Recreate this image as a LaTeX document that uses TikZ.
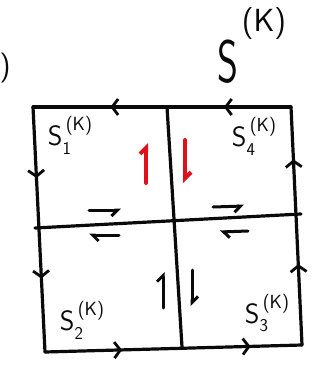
\documentclass[tikz,border=0pt]{standalone}
\usepackage{fontspec}
\usepackage{tikz}
\usetikzlibrary{calc,positioning,arrows.meta,decorations.markings}
\definecolor{PenRed}{HTML}{E0101A}
\definecolor{PenBlack}{HTML}{0A0A0A}

% patch name with index and (K)
\newcommand{\patchname}[1]{S\rlap{\raisebox{-0.3em}{\fontsize{18}{18}\selectfont #1}}\raisebox{0.55em}{\fontsize{19}{19}\selectfont\,(K)}}

\tikzset{
  pen/.style={draw=PenBlack, line width=3.2pt, line cap=round, line join=round},
  edgemarks/.style 2 args={
    postaction={decorate},
    decoration={markings,
      mark=at position #1 with {\arrow{Straight Barb[length=6pt,width=16pt,line width=2.8pt]}},
      mark=at position #2 with {\arrow{Straight Barb[length=6pt,width=16pt,line width=2.8pt]}}}
  },
  flux/.style={pen, line width=3pt},
  patchlabel/.style={font=\sffamily\fontsize{28}{30}\selectfont, text=PenBlack, inner sep=1pt},
}

\begin{document}
\begin{tikzpicture}[x=1pt,y=-1pt]
  \useasboundingbox (0,0) rectangle (323,371);

  % corners of the boundary and ends of the cut lines
  \coordinate (tl) at (33,107);
  \coordinate (tr) at (291,107);
  \coordinate (br) at (302,345);
  \coordinate (bl) at (45,352);
  \coordinate (topmid) at (167,107);
  \coordinate (botmid) at (182,347);
  \coordinate (leftmid) at (35,228);
  \coordinate (rightmid) at (301,214);

  % outer boundary, oriented
  \draw[pen, edgemarks={0.26}{0.7}] (tr) -- (tl);
  \draw[pen, edgemarks={0.29}{0.7}] (tl) -- (bl);
  \draw[pen, edgemarks={0.3}{0.8}] (bl) -- (br);
  \draw[pen, edgemarks={0.34}{0.78}] (br) -- (tr);

  % cuts
  \draw[pen] (topmid) -- (botmid);
  \draw[pen] (leftmid) -- (rightmid);

  % labels
  \node[patchlabel] (s1) at (70,135) {\patchname{1}};
  \node[patchlabel] (s4) at (254,136) {\patchname{4}};
  \node[patchlabel] (s2) at (82,320) {\patchname{2}};
  \node[patchlabel] (s3) at (267,313) {\patchname{3}};
  \node[font=\sffamily\fontsize{40}{44}\selectfont, text=PenBlack, yscale=1.5] (sk) at (228,62) {S};
  \node[font=\sffamily\fontsize{32}{34}\selectfont, text=PenBlack] (skk) at (264,24) {(K)};
  \node[font=\sffamily\fontsize{30}{32}\selectfont, text=PenBlack] (cut) at (5,68) {)};

  % arrows along the cuts
  \coordinate (ra) at (146,183);
  \coordinate (rb) at (185,140);
  \coordinate (ba) at (163,308);
  \coordinate (bb) at (192,270);
  \draw[flux, draw=PenRed, line width=4pt, -{Straight Barb[left,length=6pt,width=12pt]}] (ra) -- ++(0,-40);
  \draw[flux, draw=PenRed, line width=4pt, -{Straight Barb[left,length=6pt,width=12pt]}] (rb) -- ++(0,43);
  \draw[flux, -{Straight Barb[left,length=6pt,width=12pt]}] (ba) -- ++(0,-36);
  \draw[flux, -{Straight Barb[left,length=6pt,width=12pt]}] (bb) -- ++(0,36);

  \coordinate (la) at (89,210);
  \coordinate (lb) at (119,235);
  \coordinate (ma) at (213,207);
  \coordinate (mb) at (248,231);
  \draw[flux, -{Straight Barb[right,length=6pt,width=12pt]}] (la) -- ++(32,0);
  \draw[flux, -{Straight Barb[left,length=6pt,width=12pt]}] (lb) -- ++(-30,0);
  \draw[flux, -{Straight Barb[right,length=6pt,width=12pt]}] (ma) -- ++(31,-1);
  \draw[flux, -{Straight Barb[left,length=6pt,width=12pt]}] (mb) -- ++(-28,1);
\end{tikzpicture}
\end{document}
